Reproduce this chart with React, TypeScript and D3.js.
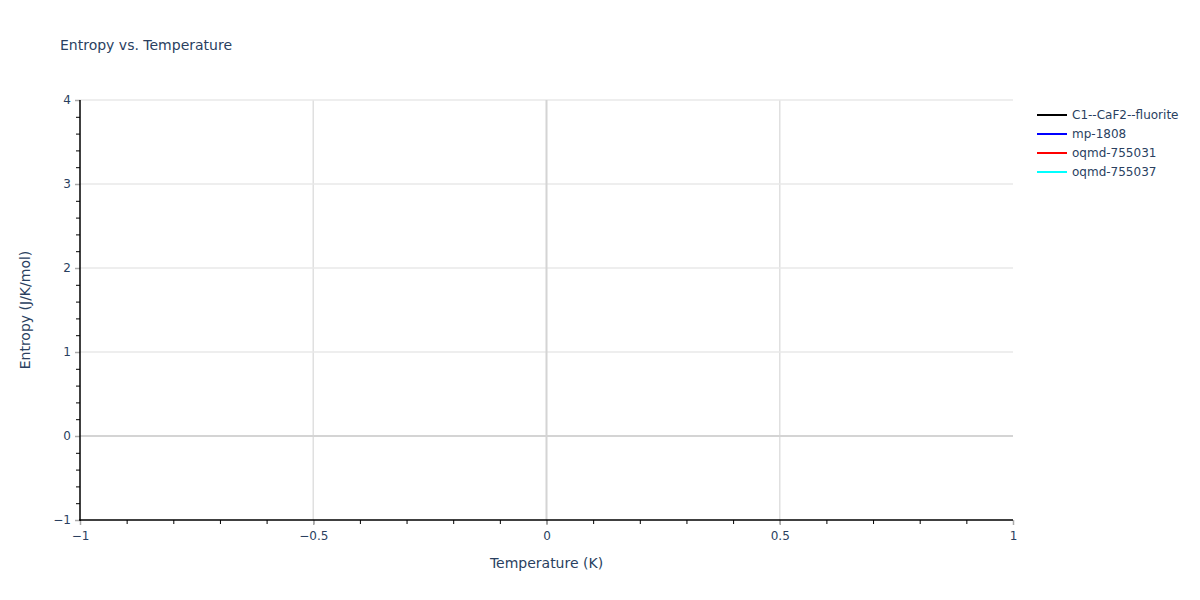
import { useEffect, useRef } from "react";
import * as d3 from "d3";

// series shown in the legend (the plot itself has no points)
const seriesNames = ["C1--CaF2--fluorite", "mp-1808", "oqmd-755031", "oqmd-755037"];
const seriesColors = ["black", "blue", "red", "cyan"];
const seriesTemps: number[][] = [[], [], [], []];
const seriesEntropy: number[][] = [[], [], [], []];

const xTicks = [-1, -0.5, 0, 0.5, 1];
const yTicks = [-1, 0, 1, 2, 3, 4];

const W = 1200;
const H = 600;
const margin = { top: 100, right: 187, bottom: 80, left: 80 };
const textColor = "#2a3f5f";
const font = "'DejaVu Sans', verdana, arial, sans-serif";

export default function App() {
  const svgRef = useRef(null);

  useEffect(() => {
    const svg = d3.select(svgRef.current);
    svg.selectAll("*").remove();

    const x = d3.scaleLinear().domain([-1, 1]).range([margin.left, W - margin.right]);
    const y = d3.scaleLinear().domain([-1, 4]).range([H - margin.bottom, margin.top]);

    svg.append("rect").attr("width", W).attr("height", H).attr("fill", "white");

    // grid
    const grid = svg.append("g");
    grid.selectAll("line.gx")
      .data(xTicks.filter((t) => t !== 0 && t !== -1 && t !== 1))
      .join("line")
      .attr("x1", (d) => x(d)).attr("x2", (d) => x(d))
      .attr("y1", y(4)).attr("y2", y(-1))
      .attr("stroke", "#e0e0e0").attr("stroke-width", 1.5);
    grid.selectAll("line.gy")
      .data(yTicks.filter((t) => t > 0))
      .join("line")
      .attr("x1", x(-1)).attr("x2", x(1))
      .attr("y1", (d) => y(d)).attr("y2", (d) => y(d))
      .attr("stroke", "#e8e8e8").attr("stroke-width", 1.5);

    // zero lines
    grid.append("line")
      .attr("x1", x(0)).attr("x2", x(0)).attr("y1", y(4)).attr("y2", y(-1))
      .attr("stroke", "#d4d4d4").attr("stroke-width", 2);
    grid.append("line")
      .attr("x1", x(-1)).attr("x2", x(1)).attr("y1", y(0)).attr("y2", y(0))
      .attr("stroke", "#d4d4d4").attr("stroke-width", 2);

    // series
    const line = d3.line<[number, number]>().x((d) => x(d[0])).y((d) => y(d[1]));
    seriesNames.forEach((n, i) => {
      const pts = seriesTemps[i].map((t, j) => [t, seriesEntropy[i][j]] as [number, number]);
      svg.append("path").datum(pts)
        .attr("d", line)
        .attr("fill", "none").attr("stroke", seriesColors[i]).attr("stroke-width", 2);
    });

    // x axis
    const xAx = svg.append("g").attr("transform", `translate(0,${y(-1)})`);
    xAx.call(d3.axisBottom(x).tickValues(d3.range(-10, 11).map((d) => d / 10)).tickSize(4).tickFormat(() => ""))
      .call((g) => g.select(".domain").remove())
      .call((g) => g.selectAll("line").attr("stroke", "black"));
    xAx.append("g").call(d3.axisBottom(x).tickValues(xTicks).tickSize(5).tickPadding(6)
      .tickFormat((d) => d3.format("")(d as number).replace("-", "\u2212")))
      .call((g) => g.select(".domain").remove())
      .call((g) => g.selectAll("line").attr("stroke", "#aaa").attr("stroke-width", 1.5))
      .call((g) => g.selectAll("text").attr("fill", textColor).attr("font-size", 12).attr("font-family", font));
    xAx.append("line").attr("x1", x(-1) - 1).attr("x2", x(1)).attr("stroke", "black").attr("stroke-width", 1.5);

    // y axis
    const yAx = svg.append("g").attr("transform", `translate(${x(-1)},0)`);
    yAx.call(d3.axisLeft(y).tickValues(d3.range(-5, 21).map((d) => d / 5)).tickSize(4).tickFormat(() => ""))
      .call((g) => g.select(".domain").remove())
      .call((g) => g.selectAll("line").attr("stroke", "black"));
    yAx.append("g").call(d3.axisLeft(y).tickValues(yTicks).tickSize(5).tickPadding(4)
      .tickFormat((d) => d3.format("")(d as number).replace("-", "\u2212")))
      .call((g) => g.select(".domain").remove())
      .call((g) => g.selectAll("line").attr("stroke", "#aaa").attr("stroke-width", 1.5))
      .call((g) => g.selectAll("text").attr("fill", textColor).attr("font-size", 12).attr("font-family", font));
    yAx.append("line").attr("y1", y(4)).attr("y2", y(-1) + 1).attr("stroke", "black").attr("stroke-width", 1.5);

    // titles
    svg.append("text").attr("x", 60).attr("y", 50)
      .attr("fill", textColor).attr("font-size", 14).attr("font-family", font)
      .text("Entropy vs. Temperature");
    svg.append("text").attr("x", (x(-1) + x(1)) / 2).attr("y", 568)
      .attr("text-anchor", "middle")
      .attr("fill", textColor).attr("font-size", 14).attr("font-family", font)
      .text("Temperature (K)");
    svg.append("text")
      .attr("transform", `translate(30,${(y(-1) + y(4)) / 2}) rotate(-90)`)
      .attr("text-anchor", "middle")
      .attr("fill", textColor).attr("font-size", 14).attr("font-family", font)
      .text("Entropy (J/K/mol)");

    // legend
    const legend = svg.append("g").attr("transform", "translate(1037,115)");
    const items = legend.selectAll("g").data(seriesNames).join("g")
      .attr("transform", (_, i) => `translate(0,${i * 19})`);
    items.append("line").attr("x1", 0).attr("x2", 30)
      .attr("stroke", (_, i) => seriesColors[i]).attr("stroke-width", 2);
    items.append("text").attr("x", 35).attr("dy", "0.35em")
      .attr("fill", textColor).attr("font-size", 12).attr("font-family", font)
      .text((d) => d);
  }, []);

  return <svg ref={svgRef} width={W} height={H} style={{ display: "block", margin: -8 }} />;
}
